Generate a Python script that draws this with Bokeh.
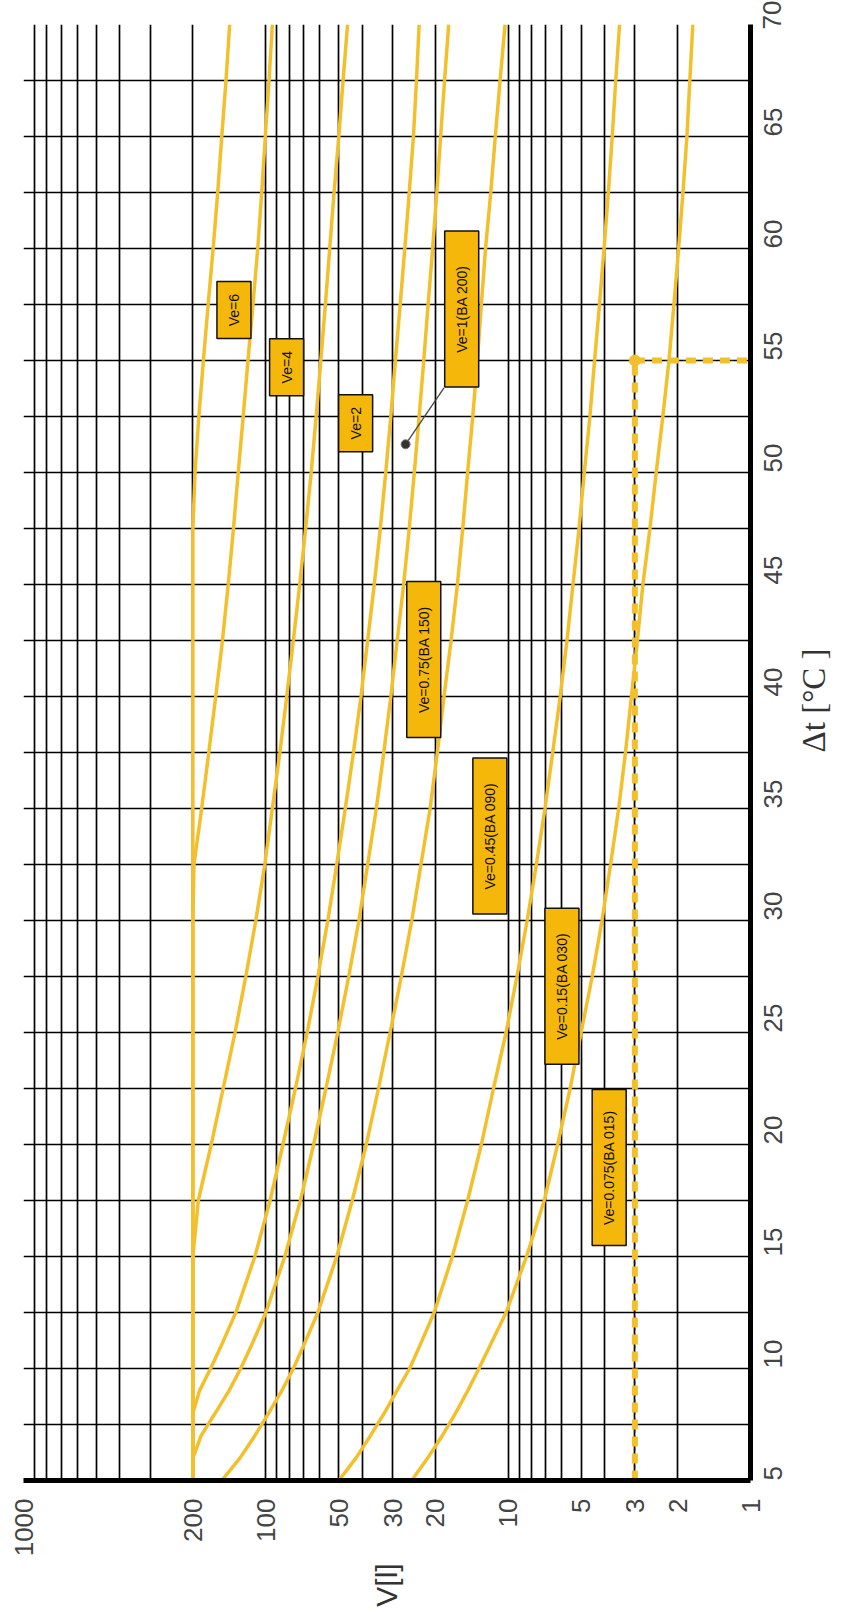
import math
from bokeh.plotting import figure
from bokeh.models import Range1d, FixedTicker, PrintfTickFormatter, ColumnDataSource
from bokeh.core.properties import value
from bokeh.embed import file_html
from bokeh.resources import INLINE

# ---------------- data ----------------
dt = [5, 6, 7, 8, 9, 10, 11, 12.5, 15, 17.5, 20, 22.5, 25, 27.5, 30, 32.5, 35,
      37.5, 40, 42.5, 45, 47.5, 50, 52.5, 55, 57.5, 60, 62.5, 65, 67.5, 70]

v_ve6 = [200] * 22 + [196, 189, 181, 173, 165, 158, 152, 146, 141]
v_ve4 = [200] * 15 + [198, 184, 172, 161, 151, 143, 136, 130, 124, 118.5, 113, 108,
                      104, 100.5, 97, 94]
v_ve2 = [200] * 9 + [190, 168, 150, 134, 121, 110, 101, 94, 87.5, 82, 77, 72.5, 68.5,
                     65, 62, 59.3, 56.8, 54.5, 52.3, 50, 48, 46]
v_ve1 = [200, 200, 200, 200, 188, 169, 153, 133, 111, 96, 85, 75.5, 67.5, 61, 55.5,
         51, 47, 43.5, 40.5, 38, 35.7, 33.7, 32, 30.5, 29.2, 27.9, 26.7, 25.6, 24.6,
         23.9, 23.3]
v_ve075 = [200, 200, 185, 162, 142, 127, 115, 100, 83.5, 72, 63.5, 56.5, 50.5, 45.5,
           41.3, 38, 35, 32.6, 30.5, 28.7, 27, 25.6, 24.4, 23.3, 22.3, 21.4, 20.5,
           19.7, 19, 18.3, 17.6]
v_ve045 = [152, 128, 111, 97.5, 86, 77, 70, 61, 51, 44, 38.5, 34.3, 30.7, 27.6, 25,
           22.9, 21, 19.6, 18.4, 17.2, 16.2, 15.4, 14.7, 14, 13.4, 12.9, 12.4, 11.8,
           11.3, 10.8, 10.3]
v_ve015 = [50, 42.5, 37, 32.5, 28.8, 25.5, 23.2, 20.2, 17, 14.7, 12.9, 11.5, 10.2, 9.2,
           8.35, 7.65, 7.05, 6.55, 6.1, 5.72, 5.4, 5.1, 4.85, 4.6, 4.4, 4.2, 4.02, 3.86,
           3.72, 3.6, 3.47]
v_ve0075 = [25, 21.5, 18.7, 16.5, 14.7, 13.2, 11.9, 10.2, 8.4, 7.1, 6.25, 5.55, 5, 4.5,
            4.1, 3.78, 3.5, 3.28, 3.1, 2.93, 2.78, 2.6, 2.45, 2.3, 2.17, 2.07, 1.98,
            1.9, 1.83, 1.78, 1.73]

series = [v_ve6, v_ve4, v_ve2, v_ve1, v_ve075, v_ve045, v_ve015, v_ve0075]

label_texts = ["Ve=6", "Ve=4", "Ve=2", "Ve=1(BA 200)", "Ve=0.75(BA 150)",
               "Ve=0.45(BA 090)", "Ve=0.15(BA 030)", "Ve=0.075(BA 015)"]
label_v = [135.4, 82.1, 42.6, 15.55, 22.3, 11.9, 6.0, 3.83]
label_dt = [57.25, 54.7, 52.2, 57.3, 41.65, 33.77, 27.07, 18.97]
label_h = [57, 57, 57, 156, 156, 156, 156, 156]

v_ticks = [1, 2, 3, 5, 10, 20, 30, 50, 100, 200, 1000]
dt_ticks = [5, 10, 15, 20, 25, 30, 35, 40, 45, 50, 55, 60, 65, 70]

example_v = 3
example_dt = 55

# ---------------- figure ----------------
LINE = "#F3C02C"
BOX = "#F5B70A"

p = figure(x_axis_type="log", x_range=Range1d(1000, 1), y_range=Range1d(5, 70),
           y_axis_location="right", frame_width=727, frame_height=1456,
           min_border_left=23, min_border_top=24, min_border_right=90,
           min_border_bottom=118, output_backend="svg", toolbar_location=None)
p.outline_line_color = None
p.background_fill_color = "white"

# grid
minor = []
for dec in [1, 10, 100]:
    for k in range(1, 10):
        minor.append(dec * k)
minor.append(1000)
p.xgrid.ticker = FixedTicker(ticks=minor)
p.ygrid.ticker = FixedTicker(ticks=[5 + 2.5 * i for i in range(27)])
for g in (p.xgrid, p.ygrid):
    g.grid_line_color = "black"
    g.grid_line_alpha = 1.0
    g.grid_line_width = 1.7

# axes
for ax in (p.xaxis[0], p.yaxis[0]):
    ax.axis_line_width = 5
    ax.axis_line_color = "black"
    ax.major_tick_line_color = None
    ax.minor_tick_line_color = None
    ax.major_label_orientation = math.pi / 2
    ax.major_label_text_font = "Liberation Sans"
    ax.major_label_text_font_size = "26px"
    ax.major_label_text_color = "#444444"
    ax.axis_label_text_font_style = "normal"
    ax.axis_label_orientation = math.pi / 2

p.xaxis.ticker = FixedTicker(ticks=v_ticks)
p.xaxis.formatter = PrintfTickFormatter(format="%d")
p.xaxis.major_label_standoff = 12
p.xaxis.axis_label = "V[l]"
p.xaxis.axis_label_text_font = "Liberation Sans"
p.xaxis.axis_label_text_font_size = "30px"
p.xaxis.axis_label_text_color = "#333333"
p.xaxis.axis_label_standoff = 4

p.yaxis.ticker = FixedTicker(ticks=dt_ticks)
p.yaxis.major_label_standoff = 16
p.yaxis.axis_label = "\u0394t [\u00b0C ]"
p.yaxis.axis_label_text_font = "Liberation Serif"
p.yaxis.axis_label_text_font_size = "33px"
p.yaxis.axis_label_text_color = "#333333"
p.yaxis.axis_label_standoff = 20

# example dashed reading lines
p.line([example_v, example_v], [5, example_dt], line_color="#222222", line_width=1,
       line_dash="3 3")
p.line([example_v, 1], [example_dt, example_dt], line_color="#222222", line_width=1,
       line_dash="3 3")
p.line([example_v, example_v], [5, example_dt], line_color=LINE, line_width=6,
       line_dash="10 7")
p.line([example_v, 1], [example_dt, example_dt], line_color=LINE, line_width=6,
       line_dash="10 7")
p.scatter([example_v], [example_dt], size=11, fill_color=LINE, line_color=LINE)

# curves
for s in series:
    p.line(s, dt, line_color=LINE, line_width=3.5)

# leader line + dot for Ve=1
p.line([26.5, 18.4], [51.26, 53.78], line_color="#444444", line_width=1.3)
p.scatter([26.5], [51.26], size=9, fill_color="#333333", line_color="#777777")

# label boxes
src = ColumnDataSource(dict(x=label_v, y=label_dt, t=label_texts, h=label_h))
p.rect(x="x", y="y", width=34, height="h", width_units="screen",
       height_units="screen", source=src, fill_color=BOX, line_color="#111111",
       line_width=1.5)
p.text(x="x", y="y", text="t", source=src, angle=math.pi / 2, text_align="center",
       text_baseline="middle", text_font=value("Liberation Sans"),
       text_font_size="14px", text_color="#111111")

open("out.html", "w").write(file_html(p, INLINE))
